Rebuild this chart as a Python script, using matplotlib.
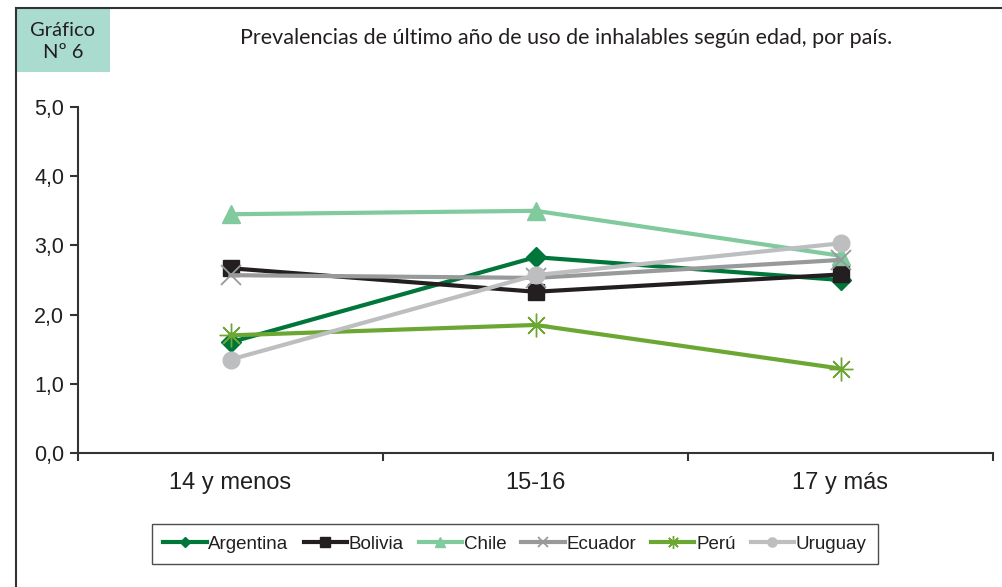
import matplotlib
matplotlib.use("Agg")
import matplotlib.pyplot as plt
from matplotlib.lines import Line2D
from matplotlib.patches import Rectangle

categories = ["14 y menos", "15-16", "17 y más"]
countries = ["Argentina", "Bolivia", "Chile", "Ecuador", "Perú", "Uruguay"]

argentina = [1.6, 2.83, 2.5]
bolivia = [2.67, 2.33, 2.58]
chile = [3.45, 3.5, 2.85]
ecuador = [2.57, 2.53, 2.79]
peru = [1.7, 1.85, 1.22]
uruguay = [1.35, 2.57, 3.03]

series = [argentina, bolivia, chile, ecuador, peru, uruguay]
colors = ["#00763A", "#231F20", "#80CA9E", "#98999B", "#6DA733", "#BDBEC0"]
markers = ["D", "s", "^", "x", (8, 2, 0), "o"]
msizes = [10, 12, 13, 14, 17, 12]
mews = [1, 1, 1, 1.3, 1.0, 1]

yticks = [0, 1, 2, 3, 4, 5]
ytick_labels = ["0,0", "1,0", "2,0", "3,0", "4,0", "5,0"]

fig = plt.figure(figsize=(10.02, 5.87), dpi=100)
ax = fig.add_axes([78 / 1002, 1 - 453 / 587, (993 - 78) / 1002, (453 - 107) / 587])

x = list(range(len(categories)))
handles = []
for vals, name, c, m, ms, mew in zip(series, countries, colors, markers, msizes, mews):
    ax.plot(x, vals, color=c, lw=3.0, marker=m, ms=ms, mec=c, mfc=c, mew=mew, clip_on=False)
    handles.append(Line2D([], [], color=c, lw=3, marker=m, ms=ms * 0.55, mec=c, mfc=c, mew=mew))

ax.set_xlim(-0.5, 2.5)
ax.set_ylim(0, 5)
ax.set_yticks(yticks)
ax.set_yticklabels(ytick_labels, fontsize=15.5, family="Liberation Sans", color="#231F20")
ax.set_xticks([-0.5, 0.5, 1.5, 2.5])
ax.set_xticklabels([])
ax.tick_params(axis="y", length=6, width=1.5, color="#333333", pad=4)
ax.tick_params(axis="x", length=6, width=1.5, color="#333333", direction="out")
for i, cat in enumerate(categories):
    ax.text(i, -0.27, cat, ha="center", va="top", fontsize=17, family="Liberation Sans",
            color="#231F20", transform=ax.transData)

for s in ["top", "right"]:
    ax.spines[s].set_visible(False)
for s in ["left", "bottom"]:
    ax.spines[s].set_linewidth(1.5)
    ax.spines[s].set_color("#333333")

leg = fig.legend(handles, countries, loc="center", bbox_to_anchor=(515 / 1002, 1 - 544 / 587),
                 ncol=6, frameon=True, fancybox=False, handlelength=2.3, handletextpad=0.1,
                 columnspacing=0.8, borderpad=0.6,
                 prop={"family": "Liberation Sans", "size": 13.5})
leg.get_frame().set_edgecolor("#231F20")
leg.get_frame().set_linewidth(1.0)
for t in leg.get_texts():
    t.set_color("#231F20")

# frame and header box
fig.add_artist(Line2D([16 / 1002, 16 / 1002], [0, 1 - 8 / 587], transform=fig.transFigure,
                      color="#333333", lw=1.5))
fig.add_artist(Line2D([16 / 1002, 1], [1 - 8 / 587, 1 - 8 / 587], transform=fig.transFigure,
                      color="#333333", lw=1.5))
fig.add_artist(Rectangle((17 / 1002, 1 - 72 / 587), 93 / 1002, 63 / 587, transform=fig.transFigure,
                         facecolor="#A9DCCF", edgecolor="none"))
fig.text(63 / 1002, 1 - 30 / 587, "Gráfico", ha="center", va="center", fontsize=14.5,
         family="Lato", color="#231F20")
fig.text(63 / 1002, 1 - 53 / 587, "Nº 6", ha="center", va="center", fontsize=14.5,
         family="Lato", color="#231F20")
fig.text(566 / 1002, 1 - 38 / 587, "Prevalencias de último año de uso de inhalables según edad, por país.",
         ha="center", va="center", fontsize=15.5, family="Lato", color="#231F20")

fig.savefig("out.png", dpi=100)
